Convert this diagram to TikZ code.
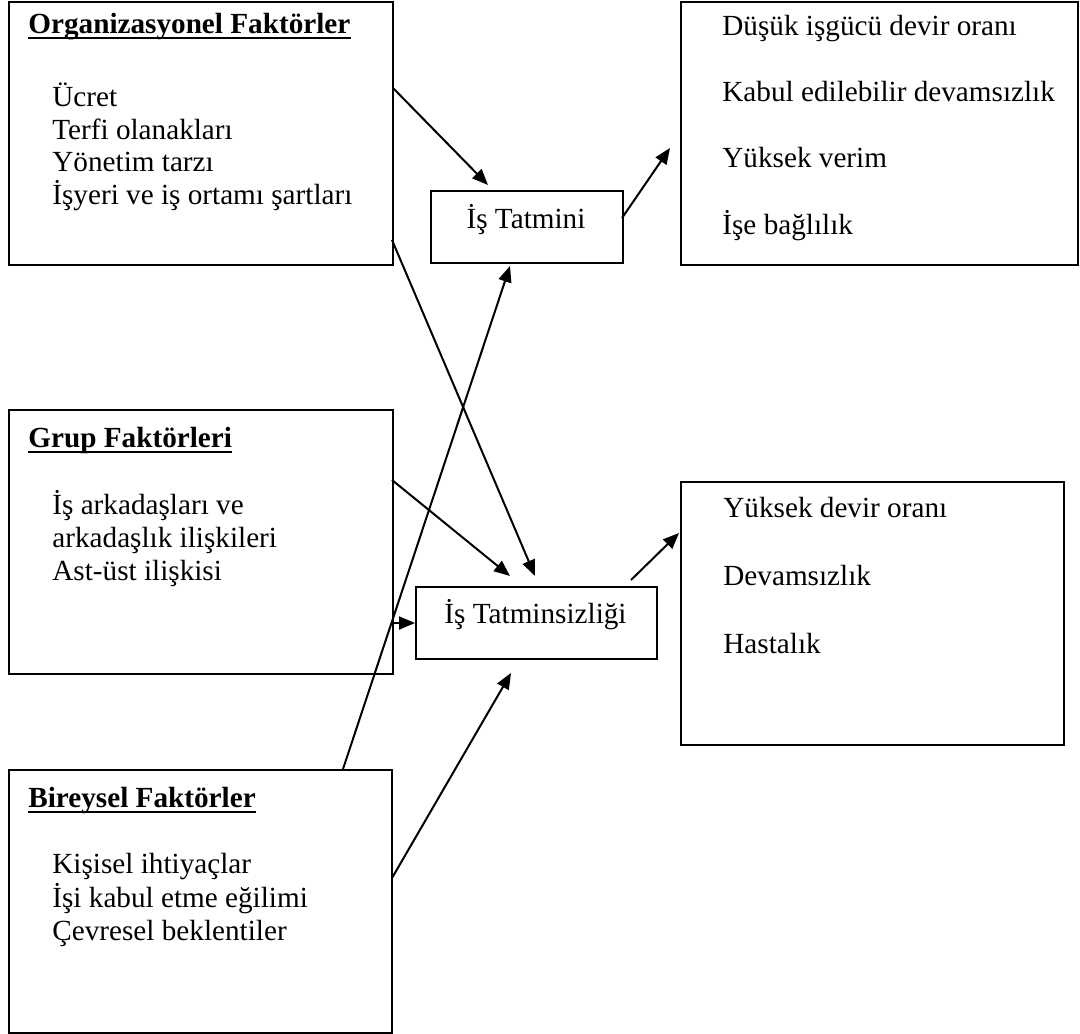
\documentclass[tikz,border=0pt]{standalone}
\usepackage{fontspec}
\setmainfont{Liberation Serif}
\usetikzlibrary{arrows.meta}
\begin{document}
\begin{tikzpicture}[x=0.5pt,y=-0.5pt,
  box/.style={draw, line width=1pt, inner sep=0pt, anchor=north west},
  txt/.style={anchor=base west, inner sep=0pt, font=\fontsize{14.6}{16}\selectfont},
  ttl/.style={anchor=base west, inner sep=0pt, font=\fontsize{14.6}{16}\selectfont\bfseries},
  uline/.style={line width=1.1pt},
  arr/.style={line width=1pt, -{Triangle[length=8pt,width=6.5pt]}}
]
\useasboundingbox (0,0) rectangle (1080,1033);
\fill[white] (0,0) rectangle (1080,1033);

% boxes
\node[box, minimum width=192pt, minimum height=131.5pt] (org) at (8,1) {};
\node[box, minimum width=198.5pt, minimum height=131.5pt] (res1) at (680,1) {};
\node[box, minimum width=96pt, minimum height=36pt] (tat) at (430,190) {};
\node[box, minimum width=192pt, minimum height=132pt] (grup) at (8,409) {};
\node[box, minimum width=120.5pt, minimum height=36pt] (tats) at (415,586) {};
\node[box, minimum width=191.5pt, minimum height=131.5pt] (res2) at (680,481) {};
\node[box, minimum width=191.5pt, minimum height=131.5pt] (bir) at (8,769) {};

% Organizasyonel
\node[ttl] (orgt) at (28,33) {Organizasyonel Faktörler};
\draw[uline] ([yshift=-2.5pt]orgt.base west) -- ([yshift=-2.5pt]orgt.base east);
\node[txt] (o1) at (52,106) {Ücret};
\node[txt] (o2) at (52,139) {Terfi olanakları};
\node[txt] (o3) at (52,171) {Yönetim tarzı};
\node[txt] (o4) at (52,204) {İşyeri ve iş ortamı şartları};

% Grup
\node[ttl] (grupt) at (28,447) {Grup Faktörleri};
\draw[uline] ([yshift=-2.5pt]grupt.base west) -- ([yshift=-2.5pt]grupt.base east);
\node[txt] (g1) at (52,514) {İş arkadaşları ve};
\node[txt] (g2) at (52,547) {arkadaşlık ilişkileri};
\node[txt] (g3) at (52,580) {Ast-üst ilişkisi};

% Bireysel
\node[ttl] (birt) at (28,807) {Bireysel Faktörler};
\draw[uline] ([yshift=-2.5pt]birt.base west) -- ([yshift=-2.5pt]birt.base east);
\node[txt] (b1) at (52,873) {Kişisel ihtiyaçlar};
\node[txt] (b2) at (52,907) {İşi kabul etme eğilimi};
\node[txt] (b3) at (52,940) {Çevresel beklentiler};

% middle
\node[txt, anchor=base] (tatt) at (526,228) {İş Tatmini};
\node[txt, anchor=base] (tatst) at (535.5,623) {İş Tatminsizliği};

% results 1
\node[txt] (r11) at (722,35) {Düşük işgücü devir oranı};
\node[txt] (r12) at (722,101) {Kabul edilebilir devamsızlık};
\node[txt] (r13) at (722,167) {Yüksek verim};
\node[txt] (r14) at (722,234) {İşe bağlılık};

% results 2
\node[txt] (r21) at (723,517) {Yüksek devir oranı};
\node[txt] (r22) at (723,585) {Devamsızlık};
\node[txt] (r23) at (723,653) {Hastalık};

% connector end points
\coordinate (a1s) at (393,88);  \coordinate (a1e) at (488,185);
\coordinate (a2s) at (622,218); \coordinate (a2e) at (670,148);
\coordinate (a3s) at (392,240); \coordinate (a3e) at (535,576);
\coordinate (a4s) at (392,480); \coordinate (a4e) at (510,576);
\coordinate (a5s) at (343,769); \coordinate (a5e) at (510,266);
\coordinate (a6s) at (392,623); \coordinate (a6e) at (415,623);
\coordinate (a7s) at (392,878); \coordinate (a7e) at (511,673);
\coordinate (a8s) at (631,580); \coordinate (a8e) at (679,533);

\draw[arr] (a1s) -- (a1e);
\draw[arr] (a2s) -- (a2e);
\draw[arr] (a3s) -- (a3e);
\draw[arr] (a4s) -- (a4e);
\draw[arr] (a5s) -- (a5e);
\draw[arr] (a6s) -- (a6e);
\draw[arr] (a7s) -- (a7e);
\draw[arr] (a8s) -- (a8e);
\end{tikzpicture}
\end{document}
